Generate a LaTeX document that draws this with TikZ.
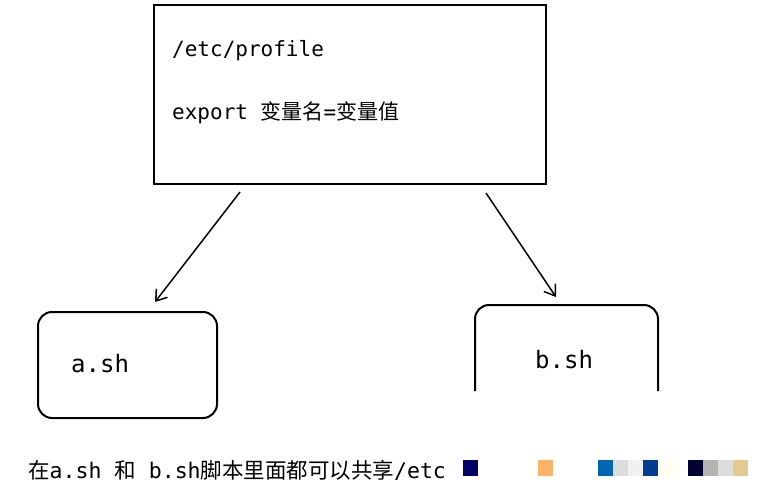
\documentclass[tikz,border=0pt]{standalone}
\usepackage{fontspec}
\setmonofont{DejaVu Sans Mono}
\newfontfamily\cjk{Noto Sans CJK SC}
\usetikzlibrary{arrows.meta}
\begin{document}
\begin{tikzpicture}[x=1pt,y=-1pt,
  lbl/.style={anchor=west,inner sep=0pt,font=\fontsize{21}{25}\selectfont\ttfamily},
  arr/.style={-{Straight Barb[length=10pt,width=14pt]},line width=1.5pt},
  sq/.style={minimum width=15pt,minimum height=16pt,inner sep=0pt,anchor=north west}]
\useasboundingbox (0,0) rectangle (763,493);
\fill[white] (0,0) rectangle (763,493);
\node[draw,line width=2pt,minimum width=392pt,minimum height=179pt,anchor=north west,inner sep=0pt] (top) at (153,4) {};
\node[lbl] (t1) at (172,51) {/etc/profile};
\node[lbl] (t2) at (172,113) {export {\cjk 变量名}={\cjk 变量值}};
\node[draw,line width=2pt,rounded corners=14pt,minimum width=179pt,minimum height=106pt,anchor=north west,inner sep=0pt] (a) at (37,311) {};
\node[lbl,font=\fontsize{24}{28}\selectfont\ttfamily] (at) at (71,364) {a.sh};
\draw[line width=2pt,rounded corners=14pt] (475,391) -- (475,305) -- (658,305) -- (658,391);
\coordinate (b) at (566,305);
\node[lbl,font=\fontsize{24}{28}\selectfont\ttfamily] (bt) at (535,360) {b.sh};
\coordinate (s1) at (240,192); \coordinate (e1) at (155,302);
\coordinate (s2) at (486,193); \coordinate (e2) at (556,297);
\draw[arr] (s1) -- (e1);
\draw[arr] (s2) -- (e2);
\node[lbl,font=\fontsize{21.5}{25}\selectfont\ttfamily] (note) at (28,470) {{\cjk 在}a.sh {\cjk 和} b.sh{\cjk 脚本里面都可以共享}/etc};
\foreach \x/\c in {463/000066,538/FFB366,598/0066B3,613/DCDCDC,628/F0F0F0,643/003C8F,658/FFFFF0,688/000033,703/B3B3B3,718/DCDCDC,733/E3CA8F}{
  \definecolor{tmp}{HTML}{\c}
  \node[sq,fill=tmp] at (\x,460) {};
}
\end{tikzpicture}
\end{document}
